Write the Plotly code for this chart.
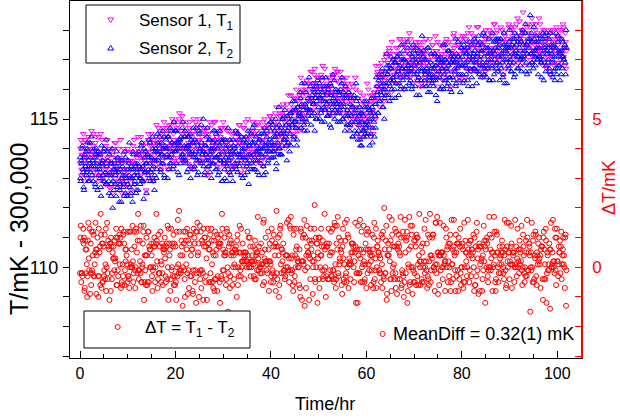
import plotly.graph_objects as go

# Sensor 2 temperature, T2 (mK - 300,000); readings on the 10-min marks
T2 = [
 113.7,112.9,113.5,114.1,113.2,112.6,113.8,113.4,113.1,114.0,113.3,113.6,
 112.9,113.7,114.4,113.1,113.6,113.4,114.0,112.8,113.8,113.5,112.6,113.9,
 113.4,113.0,112.7,114.1,113.5,113.1,113.9,112.9,113.2,114.3,112.8,113.6,
 112.9,113.8,113.1,112.4,113.5,112.0,113.3,113.6,112.8,113.2,113.9,112.7,
 113.5,112.9,112.6,113.3,112.2,113.6,113.1,112.8,113.9,112.5,113.0,112.4,
 112.8,113.5,114.2,113.0,112.5,113.3,112.2,113.8,113.1,112.9,113.4,112.6,
 113.5,112.6,113.8,113.0,113.3,114.1,112.9,113.4,112.3,113.7,113.9,113.2,
 113.5,113.8,113.3,113.0,114.2,113.2,113.7,114.4,112.9,113.6,113.1,114.0,
 113.0,113.9,114.2,113.7,114.4,113.3,113.8,113.5,114.6,114.0,113.1,114.1,
 114.3,113.7,113.0,114.4,114.0,113.5,114.6,113.8,114.2,113.3,114.9,113.9,
 113.9,114.6,114.2,113.2,114.3,114.0,113.5,114.4,113.8,114.9,113.7,114.1,
 114.6,113.5,114.0,114.1,113.3,114.4,113.8,113.0,114.3,113.9,114.2,113.7,
 113.4,113.9,114.7,113.6,114.1,113.2,114.5,114.0,113.5,114.2,113.8,115.0,
 113.9,113.2,114.1,113.6,114.7,113.7,113.4,114.3,113.8,113.0,114.0,114.2,
 113.5,114.3,113.7,114.5,113.3,114.0,113.8,113.2,114.6,113.6,114.2,112.9,
 114.3,113.5,113.0,113.7,114.1,113.4,114.7,113.6,113.2,113.9,113.8,113.3,
 112.9,114.1,114.0,113.4,113.9,114.5,113.2,113.8,114.3,113.7,113.5,114.4,
 114.0,113.7,114.3,113.1,113.6,114.2,113.5,114.6,112.8,114.1,113.8,113.3,
 113.5,114.7,113.8,114.2,113.3,113.9,114.1,113.6,114.5,113.1,114.3,114.0,
 114.5,113.7,114.0,113.1,114.7,113.8,114.1,114.4,113.5,114.2,113.9,114.9,
 114.2,113.7,114.8,114.4,113.9,114.1,115.0,113.5,114.5,113.8,115.4,114.0,
 113.8,114.7,114.1,115.0,114.5,115.1,114.3,114.8,113.6,114.6,114.2,114.9,
 115.2,114.1,115.0,114.8,115.3,114.4,115.6,114.9,114.7,114.3,115.4,115.1,
 115.2,115.7,114.7,116.2,115.0,115.4,114.6,115.5,115.9,114.9,115.3,115.1,
 116.4,115.6,115.3,115.1,115.8,115.5,116.0,114.6,115.7,116.1,115.0,115.9,
 115.4,116.2,115.7,115.2,114.9,115.9,115.6,116.1,115.3,116.4,115.5,115.1,
 116.0,115.3,114.8,115.8,116.1,115.4,116.5,115.5,115.0,115.6,115.9,115.2,
 114.9,115.6,115.8,115.3,115.5,116.2,115.0,115.9,115.4,114.6,116.1,115.7,
 115.3,114.8,115.9,114.6,115.5,115.1,115.4,114.4,115.7,115.2,114.9,116.2,
 114.5,115.7,114.6,114.8,114.3,115.2,114.1,114.9,115.1,114.6,115.4,114.7,
 115.6,114.9,114.5,115.3,114.1,115.2,115.0,115.4,114.7,115.7,114.4,115.1,
 115.5,116.1,115.9,115.2,116.5,115.6,116.4,115.8,116.7,115.4,116.0,115.7,
 116.6,115.8,116.8,116.5,116.2,115.6,116.7,117.1,116.0,116.4,116.3,116.9,
 115.7,116.9,116.5,117.1,116.6,116.2,116.8,116.0,117.5,116.7,116.3,117.0,
 117.0,116.7,116.1,116.5,117.4,116.8,116.2,116.9,116.6,116.0,117.1,117.5,
 116.5,117.2,116.9,115.8,116.6,117.1,116.4,117.3,116.7,116.3,117.8,116.1,
 117.3,116.3,116.5,117.0,116.1,116.6,117.4,116.4,115.9,116.9,116.7,116.5,
 116.1,116.7,117.2,116.3,116.8,115.6,117.0,116.6,116.4,117.1,116.0,116.9,
 116.7,116.0,117.0,117.5,116.3,116.9,116.6,116.2,117.3,116.4,116.9,115.9,
 117.2,117.0,116.3,116.7,117.7,116.2,116.9,117.1,116.5,116.8,115.9,117.4,
 116.8,116.5,117.6,116.3,116.9,117.2,116.7,117.4,116.1,117.3,117.1,116.6,
 117.5,116.1,117.0,117.2,116.7,117.6,116.9,116.6,117.1,117.8,116.5,117.0,
 116.4,117.3,116.8,117.9,117.1,116.5,117.4,116.9,116.7,117.2,117.7,116.3,
 117.3,117.1,116.7,116.3,117.6,117.0,117.4,117.7,116.9,116.6,117.1,117.5,
 116.8,117.7,117.2,116.9,116.5,117.9,116.2,117.3,117.5,117.0,117.4,116.7,
 118.0,117.0,116.6,117.5,117.2,116.9,117.7,116.5,117.3,117.8,117.1,116.7,
 117.2,117.7,117.0,116.6,117.9,117.5,117.1,117.3,118.2,116.9,116.5,117.6,
 117.4,116.8,118.5,117.2,116.9,117.6,116.7,117.7,117.3,117.1,117.8,117.0,
 116.5,117.4,117.1,117.7,116.9,117.2,117.9,116.3,117.4,117.8,116.8,117.3,
 117.4,117.0,116.7,117.9,116.5,117.2,116.9,117.5,116.6,116.3,117.4,117.1,
 116.7,117.8,117.3,116.8,117.2,116.5,117.1,117.6,117.0,117.4,116.9,118.0,
]

# Sensor 2 readings taken 5 min after each of the above
T2_mid = [
 113.0,113.6,114.0,113.3,112.7,113.7,113.4,113.9,113.2,114.2,112.9,113.5,
 114.2,113.2,113.4,113.9,112.9,113.5,113.7,112.7,114.0,113.3,113.8,113.1,
 113.3,113.8,112.4,113.5,113.6,112.9,114.0,113.2,112.8,113.4,113.9,113.1,
 112.5,113.2,113.5,112.8,114.0,112.9,112.6,113.3,113.1,112.4,113.4,113.7,
 113.2,112.2,112.8,113.6,113.0,113.4,112.7,112.4,113.1,113.7,112.9,113.3,
 113.6,113.1,112.7,112.4,113.4,113.0,113.9,113.3,112.8,113.5,112.5,113.2,
 113.1,113.9,113.4,112.8,113.0,114.2,113.3,112.9,114.0,113.2,113.5,112.5,
 113.8,113.1,114.3,113.5,112.9,113.7,113.3,114.0,113.4,112.6,113.9,113.6,
 113.3,114.5,113.6,114.1,113.9,113.2,114.2,113.8,113.5,114.4,113.0,114.0,
 114.0,113.8,114.4,113.3,113.7,114.7,113.5,114.2,113.9,113.4,114.1,114.6,
 114.6,113.5,114.0,114.2,113.1,114.3,114.1,113.7,114.7,113.8,113.6,114.4,
 113.6,114.0,113.2,114.4,114.1,113.9,114.5,113.4,113.8,114.2,114.7,113.3,
 114.3,113.7,114.2,113.1,113.8,114.6,113.6,114.0,114.8,113.5,113.9,113.4,
 113.1,114.1,113.8,114.4,113.4,113.6,114.3,113.2,114.0,113.9,113.5,114.6,
 114.0,114.6,113.3,113.7,114.2,113.1,113.8,114.1,113.6,114.3,112.9,113.9,
 113.6,113.3,114.3,114.0,112.9,113.8,114.1,113.5,114.3,113.1,113.7,113.9,
 114.3,113.8,113.5,114.6,113.3,113.6,114.1,114.5,113.4,113.8,113.1,113.9,
 113.0,114.2,114.0,113.7,114.4,113.4,113.2,113.8,114.1,113.6,114.3,114.5,
 114.2,113.3,114.8,113.7,113.6,114.4,113.9,113.2,114.0,114.3,113.8,113.5,
 113.8,114.2,113.4,114.5,114.1,113.2,114.6,113.9,113.6,114.7,114.3,114.0,
 114.9,114.1,113.9,113.7,114.6,114.4,113.3,114.7,114.2,114.0,114.8,113.8,
 114.5,113.8,115.0,114.6,114.3,115.3,114.4,114.1,115.1,114.2,114.7,113.9,
 114.5,115.2,114.8,115.6,114.3,114.9,115.3,114.7,114.1,115.4,115.0,115.2,
 115.9,115.1,115.5,114.9,115.3,114.8,116.2,115.0,115.4,114.6,115.7,115.2,
 115.3,116.1,114.8,115.7,116.2,115.5,115.2,115.9,115.0,115.6,116.3,115.8,
 115.7,115.0,116.0,115.3,116.4,115.8,115.4,114.9,115.6,116.1,115.1,115.9,
 115.1,115.6,116.2,114.7,115.8,115.2,115.7,116.3,115.3,116.0,115.5,115.4,
 115.9,115.2,114.9,116.0,115.4,116.4,115.0,115.5,115.7,115.1,115.8,114.8,
 115.1,115.9,115.2,114.8,115.7,114.9,114.4,115.4,115.8,114.6,115.3,115.6,
 115.0,114.3,115.1,115.4,114.1,114.9,115.2,114.6,114.4,115.6,114.5,114.8,
 114.4,115.4,114.8,115.0,115.3,114.5,115.7,114.2,115.2,114.9,115.5,114.7,
 116.4,115.8,115.2,116.3,115.6,115.9,116.1,116.5,115.4,116.2,115.0,116.0,
 116.2,117.2,116.5,115.8,116.8,116.1,116.3,116.7,115.7,117.0,116.4,116.0,
 116.9,116.2,117.1,116.6,115.8,117.2,116.4,116.1,117.0,116.7,117.3,116.5,
 116.0,116.9,116.4,117.6,116.8,116.6,117.2,116.3,116.7,116.1,117.0,117.3,
 116.8,116.1,117.4,116.5,116.3,117.0,115.8,116.9,117.2,116.6,116.7,117.1,
 117.0,116.6,116.1,116.7,117.4,115.9,116.8,116.3,116.5,117.2,116.2,116.4,
 116.3,117.2,116.8,115.8,116.4,117.1,116.6,117.0,116.0,116.9,116.7,116.1,
 117.5,116.5,116.3,117.0,116.7,116.1,117.3,116.8,116.4,116.0,117.1,116.9,
 116.4,117.1,116.9,116.6,116.1,117.2,116.7,117.6,116.3,117.0,116.5,117.4,
 117.1,116.2,117.5,117.3,116.8,116.5,117.2,116.3,117.0,117.6,116.7,116.9,
 116.4,117.1,116.7,117.7,117.3,116.9,116.2,117.2,117.5,116.6,117.6,116.8,
 117.3,117.5,116.9,116.5,116.7,117.8,116.8,116.4,117.4,117.0,116.3,117.2,
 117.0,116.8,117.9,117.3,116.5,117.2,117.6,116.7,116.9,117.7,117.4,116.3,
 117.7,116.7,117.1,116.4,117.3,117.5,117.0,117.4,116.2,117.2,116.8,117.6,
 116.9,117.4,116.6,117.7,117.1,116.4,117.9,117.2,117.5,116.7,117.6,117.1,
 117.4,116.8,117.6,117.1,118.0,117.0,117.3,117.9,116.6,117.5,117.2,117.7,
 116.6,117.7,117.2,117.9,116.9,117.3,118.1,117.1,116.8,117.6,117.4,117.0,
 117.6,117.1,117.8,116.9,116.4,117.7,117.0,117.3,117.5,116.6,117.9,117.2,
 116.9,117.7,116.6,117.3,117.5,117.0,116.4,117.4,117.1,116.7,117.9,116.5,
 117.6,116.8,117.2,116.3,117.3,117.7,116.7,117.1,117.0,117.5,116.5,117.4,
]

# Sensor 1 temperature, T1 (mK - 300,000); readings on the 10-min marks
T1 = [
 113.5,114.3,113.3,113.8,114.5,113.6,113.1,114.0,113.7,113.0,114.2,113.9,
 114.2,113.5,113.8,113.0,114.0,114.5,113.7,113.3,114.4,113.9,113.6,112.9,
 113.1,113.7,114.5,113.4,113.0,113.9,113.6,114.0,113.3,113.5,114.3,113.2,
 113.6,112.7,113.9,113.4,113.1,112.5,114.0,113.5,113.0,114.2,113.3,113.7,
 113.2,113.7,112.7,114.3,113.5,113.0,112.8,114.0,113.3,113.1,113.6,112.5,
 114.0,113.2,113.5,113.0,112.6,113.9,113.6,113.3,114.3,112.8,113.4,113.8,
 113.3,114.4,113.4,113.9,113.1,113.6,112.9,114.2,113.7,113.2,113.8,112.6,
 113.9,113.3,114.5,113.7,114.2,113.2,114.1,113.6,112.9,114.3,113.8,114.0,
 114.8,114.1,113.8,113.5,114.2,114.5,113.3,114.3,114.0,114.7,113.7,114.4,
 113.8,114.5,114.4,113.3,114.8,114.1,114.2,113.7,115.0,114.0,114.3,113.6,
 114.6,113.5,114.2,114.8,114.1,115.2,113.9,114.3,114.5,113.6,114.9,114.0,
 113.6,114.4,114.6,113.9,114.2,113.7,114.9,114.1,114.0,114.5,113.3,115.0,
 114.2,113.8,113.5,114.8,114.5,114.0,114.3,113.6,114.7,114.1,114.6,113.9,
 114.6,114.2,113.8,113.9,113.1,114.5,114.0,114.9,113.6,114.3,114.1,113.7,
 113.9,113.5,114.9,114.1,114.4,113.7,114.6,114.0,113.4,114.7,113.8,114.2,
 114.9,113.9,113.5,114.2,113.7,114.6,113.2,114.3,114.0,113.6,114.2,113.8,
 113.4,114.5,114.1,114.0,114.6,113.5,114.3,113.8,114.8,114.2,113.2,114.4,
 114.2,113.9,114.7,113.3,114.0,114.4,113.7,115.0,113.8,114.1,114.5,113.5,
 113.7,114.9,113.9,114.4,114.2,113.5,114.6,114.1,114.8,113.8,114.3,114.0,
 114.6,114.2,113.4,114.7,115.0,114.0,114.3,114.5,113.7,114.8,114.1,115.1,
 113.7,115.0,114.7,113.9,114.6,114.5,114.2,115.4,114.1,114.8,114.4,115.1,
 115.2,114.5,114.7,115.5,114.3,115.0,114.0,114.8,115.1,114.6,115.8,114.4,
 115.1,115.8,114.8,115.2,114.5,115.7,115.3,114.9,116.0,114.6,115.4,115.1,
 115.8,114.7,115.9,115.1,116.0,115.5,116.2,115.4,115.2,116.3,115.3,115.6,
 115.3,115.9,116.6,115.7,116.0,115.5,116.2,116.7,115.2,116.1,115.8,116.4,
 116.4,115.5,115.7,116.5,115.6,116.8,115.3,116.0,115.9,115.4,116.2,115.8,
 115.6,116.1,115.2,116.3,115.8,115.9,116.4,115.1,116.5,115.7,115.5,116.6,
 116.6,115.3,115.9,115.5,116.4,115.6,115.7,116.2,114.9,116.1,115.8,115.2,
 115.3,115.8,116.0,114.7,115.1,115.6,116.2,115.2,115.7,115.4,116.4,115.0,
 115.1,114.5,115.0,115.4,115.9,114.7,115.3,114.4,115.6,114.8,115.0,115.5,
 114.9,116.2,115.1,115.4,114.7,115.6,114.4,115.8,115.3,115.2,115.9,115.0,
 116.8,116.1,116.6,115.7,116.4,115.4,116.2,116.9,116.0,116.6,115.6,116.3,
 116.4,117.2,115.9,116.9,116.6,117.3,116.3,116.7,117.6,116.2,117.0,116.5,
 117.0,116.2,117.2,116.7,117.4,116.9,116.4,117.7,116.8,116.6,117.5,116.0,
 116.5,117.2,117.0,117.7,116.6,116.8,117.9,116.4,117.3,117.1,116.2,117.4,
 117.4,116.7,117.6,116.9,116.3,117.2,116.8,117.5,116.1,117.0,117.3,116.9,
 116.8,117.6,116.5,117.2,116.9,116.3,117.0,116.6,117.7,116.4,117.1,117.5,
 117.2,116.7,116.4,117.8,116.6,117.3,116.1,117.0,116.8,117.5,116.5,116.9,
 116.3,117.4,117.1,116.7,117.6,116.9,117.3,116.4,117.0,117.2,116.1,117.5,
 117.3,116.6,117.9,117.1,116.9,116.7,117.7,117.0,117.5,116.4,117.2,116.8,
 116.8,117.3,116.9,117.8,116.4,117.7,117.2,117.4,116.7,118.1,117.0,117.5,
 117.9,116.7,117.5,117.2,117.7,117.0,116.6,118.1,117.4,116.9,117.3,117.1,
 117.1,117.6,116.4,117.8,117.3,117.2,118.0,116.9,117.5,116.7,117.7,117.4,
 117.9,117.4,117.2,116.8,117.7,118.2,116.9,117.3,118.0,117.1,116.6,117.6,
 117.1,118.1,117.3,117.6,116.5,117.5,117.8,117.2,116.9,117.7,117.4,118.2,
 117.6,117.1,118.0,116.8,117.7,117.4,117.2,118.1,117.3,117.5,118.4,116.9,
 117.0,117.8,117.6,118.0,117.3,118.6,117.5,116.8,117.9,117.4,118.1,117.5,
 117.9,117.5,117.0,117.7,118.4,117.1,117.8,117.3,117.6,118.2,117.2,117.4,
 117.3,118.4,117.2,117.0,117.6,117.9,116.8,117.5,118.0,117.4,117.7,117.1,
 117.8,117.1,117.5,116.5,118.0,117.2,117.4,117.7,116.8,117.6,117.3,118.1,
 116.9,117.5,118.0,117.3,117.0,117.7,117.2,118.2,117.1,117.4,117.9,116.7,
]

# Sensor 1 readings taken 5 min after each of the above
T1_mid = [
 114.0,113.1,113.8,114.2,113.5,112.9,114.3,113.7,113.3,113.9,114.4,113.4,
 113.3,114.0,114.6,113.7,114.1,113.2,113.8,114.2,113.1,113.9,113.5,114.4,
 113.8,113.2,113.5,114.3,113.1,113.6,113.9,112.8,114.1,113.4,113.7,114.0,
 113.1,114.0,112.7,113.5,113.8,113.2,112.9,114.2,113.4,113.7,112.8,113.6,
 114.0,113.3,113.6,112.9,112.5,113.5,113.8,113.2,113.0,113.9,113.3,112.8,
 113.3,112.7,113.9,113.6,113.4,113.0,114.1,113.1,113.5,112.8,113.8,113.7,
 114.0,113.8,113.3,113.0,114.4,113.7,113.4,114.1,112.9,113.6,113.9,113.5,
 113.2,114.3,113.8,114.1,113.5,114.5,113.0,113.9,114.2,113.6,113.4,114.4,
 114.2,113.8,114.7,113.9,114.6,113.4,114.3,113.6,114.1,114.9,114.0,113.7,
 114.7,113.4,114.4,114.6,114.1,113.9,114.8,114.2,113.6,114.5,114.9,114.0,
 114.1,114.7,113.7,114.3,115.0,114.2,113.9,114.6,115.1,113.8,114.4,114.0,
 114.8,114.1,114.5,113.5,114.0,114.7,114.2,113.8,114.4,113.4,114.6,114.3,
 113.8,114.9,114.0,114.6,114.3,113.6,115.0,113.9,114.1,114.4,113.7,114.7,
 114.1,113.6,114.5,113.3,114.7,114.4,113.8,114.3,113.5,114.8,114.0,113.9,
 114.9,114.2,113.7,114.3,113.4,114.1,114.5,113.6,114.4,114.0,114.7,113.8,
 113.5,114.3,114.7,113.4,114.2,113.8,113.9,114.6,113.6,114.0,114.5,113.3,
 114.3,113.4,114.1,114.6,113.8,114.5,113.5,114.2,114.8,113.7,114.4,114.1,
 113.8,114.7,113.6,114.2,114.9,113.4,114.4,113.9,114.1,114.6,114.0,114.5,
 114.6,114.0,114.5,113.3,114.2,114.8,113.8,114.9,113.9,114.4,113.6,114.3,
 113.6,114.3,114.9,114.0,114.7,114.2,114.5,113.7,114.8,113.9,115.1,114.1,
 114.6,115.0,113.7,114.8,114.3,115.2,114.0,114.5,114.9,114.4,114.2,115.1,
 114.6,114.4,115.2,115.4,114.2,114.9,114.8,114.5,115.5,114.1,115.0,115.3,
 115.8,115.5,114.7,115.0,115.4,114.4,115.7,115.3,114.8,115.6,115.2,114.6,
 115.2,116.4,115.7,115.1,115.5,115.9,114.9,116.0,115.8,115.3,116.2,115.6,
 116.2,115.7,115.6,116.6,115.3,115.9,116.5,115.5,116.0,116.4,115.1,116.1,
 115.3,116.0,116.4,115.7,116.3,115.4,116.1,116.7,115.6,115.8,115.9,115.5,
 116.4,115.2,116.1,115.9,115.5,116.5,115.6,115.8,116.7,115.3,116.3,116.0,
 115.7,116.2,115.2,116.6,115.9,115.5,116.3,115.1,115.8,116.0,115.6,116.4,
 116.2,115.2,115.5,115.0,115.8,115.7,114.9,116.1,115.3,115.1,116.0,115.4,
 114.8,115.7,114.9,115.2,114.4,115.5,115.2,114.7,115.8,115.1,114.6,115.4,
 115.5,115.2,116.0,114.9,115.8,114.7,115.6,115.3,114.5,115.9,115.1,115.0,
 115.7,116.5,116.1,116.8,116.0,116.2,115.6,116.6,116.4,115.9,117.0,115.8,
 117.1,116.1,116.9,116.6,117.4,116.3,117.2,115.9,116.8,117.0,116.5,116.7,
 116.7,117.4,116.2,117.2,116.9,117.7,116.8,117.1,116.4,116.5,117.0,117.5,
 117.6,116.7,117.4,116.4,116.9,117.2,116.6,117.7,116.7,117.5,117.0,116.8,
 116.6,117.0,116.8,117.5,117.3,116.4,117.6,116.9,117.4,116.2,117.2,117.1,
 117.2,116.4,117.7,116.6,116.7,117.0,116.2,117.3,116.9,117.1,116.5,117.5,
 116.3,117.1,116.9,117.3,116.5,117.6,117.1,116.4,117.5,116.8,117.2,116.6,
 117.5,116.9,116.5,117.2,117.7,116.7,116.8,117.6,116.4,117.1,116.6,117.0,
 117.0,117.8,117.4,116.5,117.2,116.9,117.5,116.8,117.1,117.7,116.3,117.4,
 117.8,116.8,117.0,117.3,117.7,116.7,116.9,117.9,117.4,117.1,117.6,116.6,
 117.0,117.4,117.8,116.9,116.7,117.6,117.4,117.1,118.1,117.3,116.8,117.5,
 117.5,116.7,117.3,117.9,117.6,116.6,117.7,117.4,117.1,116.9,118.0,117.2,
 116.9,117.8,117.1,117.3,118.2,117.6,116.8,117.9,117.4,117.7,117.2,117.0,
 117.5,117.2,118.0,116.9,117.1,117.9,117.6,116.7,117.7,117.4,117.3,118.1,
 117.1,118.1,117.4,117.8,117.5,116.9,117.9,117.3,118.2,117.0,117.6,117.7,
 118.3,117.3,117.8,117.0,118.0,117.7,117.1,117.9,117.5,117.2,118.2,117.6,
 117.4,118.1,117.2,117.8,116.9,118.2,117.6,117.5,118.0,117.3,117.9,117.1,
 117.8,117.4,118.2,117.5,117.1,117.3,118.0,116.9,117.6,117.9,116.7,117.7,
 116.8,117.6,117.2,117.9,117.5,117.1,118.0,117.4,116.9,117.7,117.3,117.8,
 117.8,116.9,117.7,117.2,118.0,117.3,117.1,118.1,117.4,116.8,117.6,117.3,
]

SAMPLES_PER_HOUR = 6
time_hr = ([i / SAMPLES_PER_HOUR for i in range(len(T2))]
           + [(i + 0.5) / SAMPLES_PER_HOUR for i in range(len(T2_mid))])
T1_all = T1 + T1_mid
T2_all = T2 + T2_mid
# Difference trace as defined in the legend: dT = T1 - T2
dT = [round(a - b, 2) for a, b in zip(T1_all, T2_all)]

x_ticks = [0, 20, 40, 60, 80, 100]
left_ticks = [110, 115]
right_ticks = [0, 5]
legend_labels = ["Sensor 1, T<sub>1</sub>", "Sensor 2, T<sub>2</sub>",
                 "\u0394T = T<sub>1</sub> - T<sub>2</sub>"]
mean_label = "MeanDiff = 0.32(1) mK"

W, H = 620, 419
ML, MR, MT, MB = 70, 39, 1, 61
PW, PH = W - ML - MR, H - MT - MB


def px(xp):
    return (xp - ML) / PW


def py(yp):
    return (H - MB - yp) / PH


FONT = "Arial, Liberation Sans, sans-serif"
MAG, BLUE, RED = "#FF00FF", "#0000FF", "#FF0000"

fig = go.Figure()
fig.add_trace(go.Scatter(
    x=time_hr, y=T1_all, mode="markers", name="Sensor 1, T1",
    marker=dict(symbol="triangle-down-open", size=5, color=MAG, line=dict(width=1, color=MAG))))
fig.add_trace(go.Scatter(
    x=time_hr, y=T2_all, mode="markers", name="Sensor 2, T2",
    marker=dict(symbol="triangle-up-open", size=5, color=BLUE, line=dict(width=1, color=BLUE))))
fig.add_trace(go.Scatter(
    x=time_hr, y=dT, mode="markers", name="dT", yaxis="y2",
    marker=dict(symbol="circle-open", size=5, color=RED, line=dict(width=1, color=RED))))

fig.update_layout(
    width=W, height=H,
    margin=dict(l=ML, r=MR, t=MT, b=MB),
    paper_bgcolor="white", plot_bgcolor="white",
    showlegend=False,
    font=dict(family=FONT, size=16, color="black"),
    xaxis=dict(
        range=[-2.1, 104.97], tickvals=x_ticks, ticks="inside", ticklen=7,
        tickcolor="black", tickwidth=1, showline=True, linecolor="black", linewidth=1,
        mirror=True, showgrid=False, zeroline=False, ticklabelstandoff=1,
        tickfont=dict(size=16),
        minor=dict(dtick=5, tick0=0, ticks="inside", ticklen=4, tickcolor="black", showgrid=False),
    ),
    yaxis=dict(
        range=[106.94, 118.98], tickvals=left_ticks, ticks="outside", ticklen=6,
        tickcolor="black", showline=True, linecolor="black", linewidth=1,
        showgrid=False, zeroline=False, tickfont=dict(size=18), ticklabelstandoff=1,
        minor=dict(dtick=1, tick0=110, ticks="outside", ticklen=6, tickcolor="black", showgrid=False),
    ),
    yaxis2=dict(
        range=[-3.06, 8.98], tickvals=right_ticks, overlaying="y", side="right",
        ticks="inside", ticklen=6, tickcolor=RED, showline=True, linecolor=RED, linewidth=1.5,
        showgrid=False, zeroline=False, tickfont=dict(size=17, color=RED), ticklabelstandoff=6,
        minor=dict(dtick=1, tick0=0, ticks="inside", ticklen=6, tickcolor=RED, showgrid=False),
    ),
)

shapes = []
# legend boxes
shapes.append(dict(type="rect", xref="paper", yref="paper", x0=px(86), x1=px(240), y0=py(63), y1=py(5),
                   line=dict(color="black", width=1), fillcolor="white", layer="above"))
shapes.append(dict(type="rect", xref="paper", yref="paper", x0=px(84), x1=px(250), y0=py(348), y1=py(311),
                   line=dict(color="black", width=1), fillcolor="white", layer="above"))


def sym(path, xp, yp, color):
    return dict(type="path", xref="paper", yref="paper", xsizemode="pixel", ysizemode="pixel",
                xanchor=px(xp), yanchor=py(yp), path=path, line=dict(color=color, width=1),
                fillcolor="rgba(0,0,0,0)", layer="above")


shapes.append(sym("M-3,2 L3,2 L0,-2.5 Z", 110.7, 20, MAG))
shapes.append(sym("M-3,-2 L3,-2 L0,2.5 Z", 110.7, 48, BLUE))
for (cx, cy) in [(117.7, 327), (382.7, 334)]:
    shapes.append(dict(type="circle", xref="paper", yref="paper", xsizemode="pixel", ysizemode="pixel",
                       xanchor=px(cx), yanchor=py(cy), x0=-2.5, x1=2.5, y0=-2.5, y1=2.5,
                       line=dict(color=RED, width=1), layer="above"))
fig.update_layout(shapes=shapes)

ann = []
ann.append(dict(text=legend_labels[0], x=px(137), y=py(22), xanchor="left", yanchor="middle",
                font=dict(size=17)))
ann.append(dict(text=legend_labels[1], x=px(137), y=py(50), xanchor="left", yanchor="middle",
                font=dict(size=17)))
ann.append(dict(text=legend_labels[2], x=px(143), y=py(329), xanchor="left", yanchor="middle",
                font=dict(size=17)))
ann.append(dict(text=mean_label, x=px(391), y=py(334), xanchor="left", yanchor="middle",
                font=dict(size=18)))
# axis titles
ann.append(dict(text="Time/hr", x=px(325), y=py(404), xanchor="center", yanchor="middle",
                font=dict(size=18)))
ann.append(dict(text="T/mK - 300,000", x=px(19), y=py(229), xanchor="center", yanchor="middle",
                textangle=-90, font=dict(size=25)))
ann.append(dict(text="\u0394T/mK", x=px(609), y=py(188), xanchor="center", yanchor="middle",
                textangle=-90, font=dict(size=18, color=RED)))
for a in ann:
    a.update(xref="paper", yref="paper", showarrow=False)
fig.update_layout(annotations=ann)

# the page is photographed at exactly the figure size: drop the default body margin
fig.write_html("out.html", config={"displayModeBar": False},
               post_script="document.body.style.margin='0px';document.body.style.overflow='hidden';")
